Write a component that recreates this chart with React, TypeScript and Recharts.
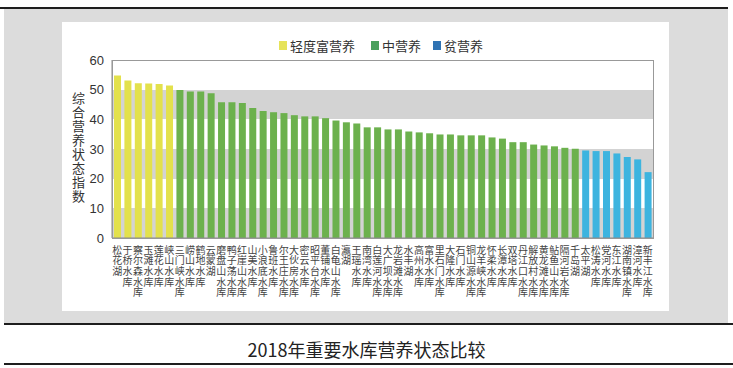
import React from "react";
import { Bar, BarChart, CartesianGrid, Cell, XAxis, YAxis } from "recharts";

// reservoir names, sorted by index (high to low)
const names = [
  "松花湖", "于桥水库", "察尔森水库", "玉滩水库", "莲花水库", "峡山水库",
  "三门峡水库", "崂山水库", "鹤地水库", "云蒙湖", "磨盘山水库", "鸭子荡水库",
  "红崖山水库", "山美水库", "小浪底水库", "鲁班水库", "尔王庄水库", "大伙房水库",
  "密云水库", "昭平台水库", "董铺水库", "白龟山水库", "瀛湖", "王瑶水库",
  "南湾水库", "白莲河水库", "大广坝水库", "龙岩滩水库", "水丰湖", "高州水库",
  "富水水库", "里石门水库", "大隆水库", "石门水库", "铜山源水库", "龙羊峡水库",
  "怀柔水库", "长潭水库", "双塔水库", "丹江口水库", "解放村水库", "黄龙滩水库",
  "鲇鱼山水库", "隔河岩水库", "千岛湖", "太平湖", "松涛水库", "党河水库",
  "东江水库", "湖南镇水库", "漳河水库", "新丰江水库",
];

const values = [
  54.8, 53.1, 52.2, 52.1, 51.9, 51.4,
  49.9, 49.4, 49.4, 48.8, 45.8, 45.8,
  45.5, 43.8, 42.8, 42.4, 42.1, 41.4,
  41.0, 41.0, 40.4, 39.6, 39.0, 38.6,
  37.3, 37.3, 36.6, 36.6, 35.9, 35.6,
  35.3, 34.9, 34.9, 34.6, 34.6, 34.6,
  33.9, 33.5, 32.3, 32.3, 31.5, 31.2,
  30.9, 30.4, 30.1, 29.5, 29.3, 29.3,
  28.5, 27.3, 26.5, 22.2,
];

const yTicks = [0, 10, 20, 30, 40, 50, 60];

const levels = [
  { name: "轻度富营养", bar: "#e3e14c", key: "#e6e35a", min: 50 },
  { name: "中营养", bar: "#6cb14d", key: "#4aa05c", min: 30 },
  { name: "贫营养", bar: "#3db4df", key: "#2f73b3", min: 0 },
];

const data = names.map((name, i) => ({ name, value: values[i] }));

const levelOf = (v: number) => levels.find((l) => v >= l.min) || levels[2];

const CJK = '"Noto Sans CJK SC", "Noto Sans", sans-serif';

// names run top to bottom, one character per row
function NameTick(props: any) {
  const { x, y, payload } = props;
  return (
    <text
      x={x}
      y={y - 1}
      style={{ writingMode: "vertical-rl" }}
      fontSize={10}
      letterSpacing={0.6}
      fontFamily={CJK}
      fill="#444"
    >
      {payload.value}
    </text>
  );
}

const line = (top: number, left: number, width: number) => (
  <div
    style={{ position: "absolute", top, left, width, height: 2, background: "#1e1e1e" }}
  />
);

export default function App() {
  return (
    <div
      style={{
        position: "absolute",
        left: 0,
        top: 0,
        width: 733,
        height: 368,
        background: "#fff",
        overflow: "hidden",
        fontFamily: CJK,
      }}
    >
      {line(7, 0, 728)}
      <div
        style={{ position: "absolute", left: 4, top: 9, width: 724, height: 314, background: "#dcdcdc" }}
      />
      <div
        style={{ position: "absolute", left: 62, top: 22, width: 607, height: 289, background: "#fff" }}
      />
      <div style={{ position: "absolute", left: 62, top: 22 }}>
        <BarChart
          width={607}
          height={289}
          data={data}
          margin={{ top: 38, right: 16, bottom: 0, left: 20 }}
        >
          <CartesianGrid
            vertical={false}
            stroke="transparent"
            horizontalFill={["#ffffff", "#d3d3d3"]}
          />
          <XAxis
            dataKey="name"
            interval={0}
            tickLine={false}
            height={73}
            stroke="#8a8a8a"
            tick={<NameTick />}
          />
          <YAxis
            width={30}
            domain={[0, 60]}
            ticks={yTicks}
            tickLine={false}
            stroke="#8a8a8a"
            tick={{ fill: "#333", fontSize: 13, fontFamily: "Liberation Sans, sans-serif" }}
          />
          <Bar dataKey="value" barSize={7} isAnimationActive={false}>
            {data.map((d, i) => (
              <Cell key={i} fill={levelOf(d.value).bar} />
            ))}
          </Bar>
        </BarChart>
      </div>
      {/* plot frame */}
      <div
        style={{
          position: "absolute",
          left: 112,
          top: 60,
          width: 540,
          height: 177,
          border: "1px solid #999",
          pointerEvents: "none",
        }}
      />
      {/* y axis title, stacked characters */}
      <div
        style={{
          position: "absolute",
          left: 71,
          top: 92,
          writingMode: "vertical-rl",
          fontSize: 13,
          letterSpacing: 1,
          color: "#333",
          lineHeight: "14px",
        }}
      >
        综合营养状态指数
      </div>
      {/* legend */}
      {levels.map((l, i) => {
        const left = [279, 371, 433][i];
        return (
          <div
            key={l.name}
            style={{
              position: "absolute",
              left,
              top: 37,
              display: "flex",
              alignItems: "center",
              fontSize: 13,
              color: "#333",
              height: 16,
            }}
          >
            <span
              style={{ width: 8, height: 9, background: l.key, marginRight: 3, display: "inline-block" }}
            />
            {l.name}
          </div>
        );
      })}
      {line(323, 4, 729)}
      <div
        style={{
          position: "absolute",
          left: 0,
          top: 338,
          width: 733,
          textAlign: "center",
          fontSize: 18,
          lineHeight: "22px",
          color: "#222",
        }}
      >
        2018年重要水库营养状态比较
      </div>
      {line(363, 4, 729)}
    </div>
  );
}
